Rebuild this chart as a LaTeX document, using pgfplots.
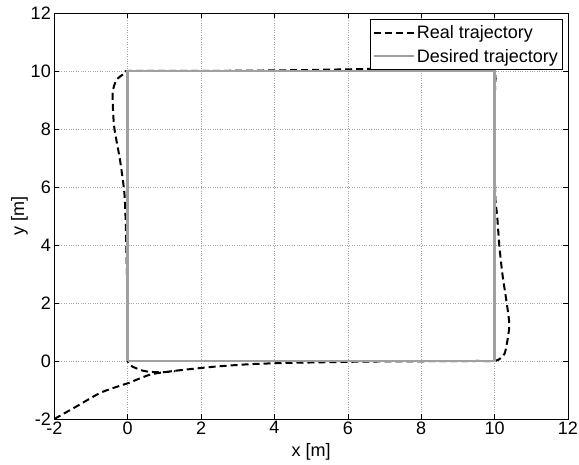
\documentclass[border=0pt]{standalone}
\usepackage{pgfplots}
\pgfplotsset{compat=1.18}
\usepackage{fontspec}
\setmainfont{Liberation Sans}
\definecolor{desgray}{RGB}{160,160,160}
\begin{document}
\begin{tikzpicture}
\path[use as bounding box] (-54.3pt,-46pt) rectangle (524.7pt,419pt);
\begin{axis}[
  scale only axis,
  width=513.7pt, height=406pt,
  at={(0,0)}, anchor=south west,
  xmin=-2, xmax=12, ymin=-2, ymax=12,
  xtick={-2,0,...,12}, ytick={-2,0,...,12},
  grid=major,
  major grid style={dotted, gray!70, line width=0.6pt},
  tick align=inside,
  major tick length=5pt,
  axis line style={line width=0.8pt},
  tick style={line width=0.6pt, black},
  ticklabel style={font=\fontsize{18}{21}\selectfont},
  xticklabel style={yshift=1pt},
  /pgf/number format/assume math mode=true,
  xlabel={x [m]}, ylabel={y [m]},
  label style={font=\fontsize{18}{21}\selectfont},
  xlabel style={yshift=-2pt},
  ylabel style={yshift=-4pt},
  legend style={at={(0.990,0.985)}, anchor=north east, font=\fontsize{18}{22}\selectfont,
    draw=black, line width=0.8pt, inner xsep=2.5pt, inner ysep=4pt, row sep=5pt},
  legend cell align=left,
  legend image code/.code={\draw[#1] (0pt,0pt) -- (40pt,0pt);},
]
\addplot[black, line width=2pt, dash pattern=on 7pt off 4pt, smooth, tension=0.4] coordinates {
(-2,-2) (-1.4,-1.57) (-0.75,-1.1) (-0.2,-0.85) (0.02,-0.76) (0.61,-0.47) (1.15,-0.36) (1.7,-0.28)
(2.42,-0.19) (3.33,-0.11) (4.24,-0.07) (5.5,-0.04) (6.5,-0.02) (8,-0.01) (9.5,0) (10,0)
(10.1,0.04) (10.28,0.28) (10.4,1.2) (10.33,2.0) (10.22,2.92) (10.13,3.95) (10.07,5.0) (10.02,5.6)
(10,7) (10,9) (10,10) (9.5,10.04) (8,10.08) (6.6,10.07) (4.7,10.03) (3,10.01) (1,10) (0,10)
(-0.07,9.93) (-0.3,9.7) (-0.41,9.24) (-0.37,8.09) (-0.21,6.94) (-0.09,5.79) (-0.05,4.64)
(-0.02,3) (0,1.5) (0,0) (0.29,-0.28) (0.52,-0.36) (0.9,-0.39) (1.3,-0.35)
};
\addlegendentry{Real trajectory}
\addplot[desgray, line width=2.4pt] coordinates {(0,0) (10,0) (10,10) (0,10) (0,0)};
\addlegendentry{Desired trajectory}
\end{axis}
\end{tikzpicture}
\end{document}
